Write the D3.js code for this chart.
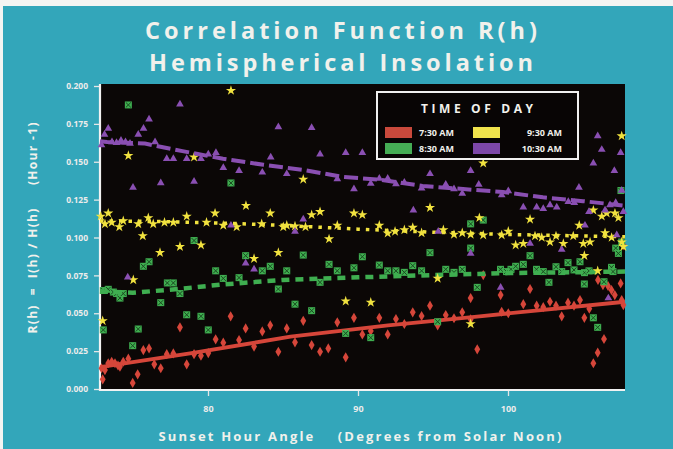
<!DOCTYPE html>
<html><head><meta charset="utf-8">
<script src="https://cdn.jsdelivr.net/npm/d3@7"></script>
<style>html,body{margin:0;padding:0;background:#fff;} svg{display:block;} text{font-family:"Open Sans",Lato,sans-serif;font-weight:700;}</style>
</head><body>
<svg id="c" width="673" height="449"></svg>
<script>
// ---------- data ----------
const titleLines = ["Correlation Function R(h)", "Hemispherical Insolation"];
const xLabel = "Sunset Hour Angle    (Degrees from Solar Noon)";
const yLabel = "R(h)  =  I(h) / H(h)     (Hour -1)";
const legendTitle = "TIME OF DAY";
const seriesNames = ["7:30 AM", "8:30 AM", "9:30 AM", "10:30 AM"];
const xTicks = [80, 90, 100];
const yTicks = [0, 0.025, 0.05, 0.075, 0.1, 0.125, 0.15, 0.175, 0.2];

const red730 = [[72.9,0.0137],[72.98,0.0064],[73.13,0.0125],[73.35,0.017],[73.58,0.018],[73.8,0.017],[74.0,0.0155],[74.13,0.0147],[74.35,0.018],[74.69,0.020],
[74.98,0.004],[75.31,0.0097],[75.69,0.0257],[76.07,0.0268],[76.42,0.0163],[76.85,0.0137],[77.25,0.023],[77.69,0.0235],[78.13,0.0407],[78.58,0.0163],
[79.07,0.023],[79.53,0.022],[80.02,0.0237],[80.51,0.0328],[81.02,0.0306],[81.51,0.048],[82.07,0.0323],[82.51,0.040],[83.07,0.028],[83.62,0.038],
[84.15,0.042],[84.69,0.0246],[85.25,0.040],[85.8,0.0308],[86.35,0.045],[86.91,0.029],[87.47,0.0246],[88.02,0.0268],[88.62,0.044],[89.18,0.0209],
[89.73,0.047],[90.29,0.036],[90.85,0.0383],[91.42,0.047],[91.98,0.036],[92.53,0.0462],[93.09,0.0429],[93.65,0.0506],[94.24,0.0482],[94.8,0.055],
[95.31,0.042],[95.85,0.0488],[96.4,0.0467],[96.95,0.0506],[97.51,0.046],[97.51,0.060],[97.95,0.0262],[98.35,0.0752],[99.51,0.062],[99.58,0.051],
[100.02,0.050],[101.02,0.056],[101.47,0.066],[101.91,0.055],[102.35,0.054],[102.8,0.0576],[103.2,0.055],[103.58,0.048],[104.0,0.057],[104.4,0.055],
[104.8,0.0587],[105.09,0.047],[105.42,0.053],[105.69,0.017],[105.98,0.024],[106.0,0.072],[106.33,0.0686],[106.4,0.033],[106.67,0.068],[106.9,0.0653],
[107.12,0.062],[107.51,0.0697],[107.58,0.0587],[107.69,0.0554],[107.69,0.095]];

const green830 = [[73.02,0.039],[73.02,0.065],[73.35,0.0658],[73.69,0.064],[73.91,0.063],[74.13,0.060],[74.35,0.063],[74.69,0.1875],[74.98,0.0286],[75.35,0.0396],
[75.69,0.081],[76.07,0.084],[76.85,0.057],[77.29,0.070],[77.69,0.070],[78.13,0.063],[78.58,0.049],[79.07,0.098],[79.53,0.048],[80.02,0.039],
[80.51,0.078],[81.02,0.073],[81.53,0.136],[82.07,0.0735],[82.51,0.088],[83.62,0.078],[84.15,0.081],[84.69,0.066],[85.25,0.078],[85.8,0.056],
[86.35,0.0884],[86.91,0.0517],[87.47,0.0704],[88.07,0.0823],[88.62,0.078],[89.18,0.0367],[89.73,0.080],[90.29,0.0873],[90.85,0.0339],[91.42,0.0818],
[91.98,0.078],[92.53,0.078],[93.09,0.077],[93.65,0.0814],[94.24,0.078],[94.8,0.090],[95.31,0.0444],[95.85,0.079],[96.4,0.077],[96.95,0.079],
[97.51,0.109],[97.51,0.093],[97.95,0.0671],[98.35,0.1115],[99.5,0.079],[99.9,0.0775],[100.2,0.079],[100.51,0.081],[101.02,0.0823],[101.47,0.088],
[101.9,0.079],[102.35,0.0775],[102.73,0.0704],[103.2,0.0807],[103.58,0.0775],[104.0,0.0834],[104.4,0.0786],[104.8,0.084],[105.09,0.0693],[105.1,0.0768],
[105.4,0.078],[105.69,0.047],[105.98,0.0407],[106.4,0.0708],[106.9,0.0803],[107.0,0.0775],[107.18,0.093],[107.36,0.0895],[107.53,0.131],[107.58,0.097]];

const yellow930 = [[72.85,0.114],[72.98,0.045],[73.13,0.109],[73.35,0.116],[73.58,0.110],[74.09,0.107],[74.35,0.111],[74.69,0.154],[75.02,0.072],[75.35,0.109],
[75.65,0.101],[76.02,0.113],[76.35,0.109],[76.8,0.090],[77.1,0.110],[77.69,0.110],[78.13,0.094],[78.58,0.114],[79.07,0.153],[79.53,0.095],
[79.9,0.110],[80.47,0.116],[81.02,0.108],[81.53,0.197],[81.91,0.107],[82.53,0.121],[83.07,0.086],[83.58,0.109],[84.15,0.116],[84.69,0.090],
[85.02,0.107],[85.25,0.108],[85.8,0.1075],[86.35,0.1384],[86.5,0.107],[86.91,0.115],[87.47,0.117],[88.07,0.099],[88.62,0.108],[89.18,0.058],
[89.73,0.116],[90.29,0.115],[90.85,0.0572],[91.42,0.108],[91.98,0.1028],[92.47,0.104],[93.09,0.105],[93.65,0.1066],[94.24,0.103],[94.8,0.1197],
[95.31,0.073],[95.69,0.105],[96.4,0.102],[96.95,0.103],[97.51,0.043],[97.51,0.102],[98.09,0.113],[98.35,0.149],[98.35,0.1016],[99.58,0.1016],
[100.02,0.104],[100.51,0.095],[101.02,0.096],[101.47,0.112],[101.8,0.101],[102.25,0.100],[102.8,0.097],[103.2,0.101],[103.69,0.096],[104.35,0.101],
[104.75,0.108],[105.02,0.096],[105.09,0.088],[105.47,0.097],[105.69,0.118],[105.98,0.078],[106.25,0.114],[106.47,0.103],[106.58,0.116],[106.91,0.100],
[107.13,0.116],[107.36,0.113],[107.58,0.167],[107.58,0.097],[107.69,0.094]];

const purple1030 = [[72.9,0.161],[73.1,0.168],[73.35,0.172],[73.6,0.163],[73.9,0.1625],[74.2,0.164],[74.5,0.163],[74.65,0.0737],[74.8,0.162],[75.0,0.133],
[75.35,0.168],[75.7,0.172],[76.07,0.178],[76.47,0.163],[76.85,0.136],[77.25,0.152],[77.69,0.152],[78.13,0.188],[78.58,0.152],[79.07,0.137],
[79.53,0.152],[80.02,0.155],[80.53,0.156],[81.02,0.146],[81.53,0.108],[82.07,0.144],[82.51,0.083],[83.07,0.079],[83.62,0.143],[84.18,0.153],
[84.69,0.173],[85.25,0.142],[85.8,0.104],[86.35,0.112],[86.91,0.1725],[87.47,0.155],[88.62,0.1386],[89.18,0.156],[89.73,0.132],[90.29,0.156],
[90.85,0.1357],[91.42,0.139],[91.98,0.139],[92.53,0.1353],[93.09,0.1363],[93.69,0.118],[94.24,0.1325],[94.8,0.142],[95.35,0.104],[95.85,0.135],
[96.4,0.132],[96.95,0.129],[97.51,0.144],[97.51,0.0895],[98.05,0.135],[99.51,0.067],[99.58,0.128],[100.02,0.1307],[101.02,0.120],[101.47,0.096],
[101.91,0.120],[102.35,0.119],[102.8,0.1215],[103.25,0.120],[103.58,0.092],[104.02,0.1236],[104.42,0.123],[104.73,0.133],[105.13,0.108],[105.4,0.117],
[105.69,0.149],[105.98,0.167],[106.25,0.158],[106.47,0.118],[106.69,0.060],[106.8,0.1215],[107.09,0.144],[107.18,0.123],[107.25,0.1016],[107.51,0.156],
[107.58,0.131],[107.69,0.117]];

const redFit = [[72.8,0.0145],[78.8,0.0235],[85.5,0.0345],[92,0.042],[98.1,0.048],[107.8,0.0576]];
const greenFit = [[72.8,0.0645],[75,0.0635],[78,0.066],[81,0.069],[85,0.072],[90,0.0737],[95,0.0752],[100,0.0765],[107.8,0.0775]];
const yellowFit = [[72.8,0.111],[77,0.1105],[81,0.1095],[85,0.108],[90,0.1055],[95,0.1035],[100,0.102],[107.8,0.1005]];
const purpleFit = [[72.8,0.1635],[73.27,0.163],[75.8,0.162],[78.3,0.157],[81.0,0.152],[83.7,0.148],[86.33,0.1446],[89.0,0.140],[91.6,0.138],[94.3,0.134],[97.0,0.132],[99.67,0.130],[102.33,0.1265],[105.0,0.124],[107.8,0.121]];

// ---------- drawing ----------
const W = 673, H = 449;
const svg = d3.select("#c");
const colors = ["#d6463a", "#3fae50", "#f1e23f", "#8a4fb2"];
const swatch = ["#c9493c", "#45ad55", "#f0e34c", "#7c47a8"];
const fg = "#f1f1ec";

svg.append("rect").attr("width", W).attr("height", H).attr("fill", "#f4f4f2");
svg.append("rect").attr("x", 3).attr("y", 6).attr("width", W - 3).attr("height", H - 6).attr("fill", "#33a6ba");

const x = d3.scaleLinear().domain([72.8, 107.8]).range([100, 625]);
const y = d3.scaleLinear().domain([0, 0.2]).range([389, 86]);

// plot area
svg.append("rect").attr("x", 100).attr("y", 84).attr("width", 525).attr("height", 305).attr("fill", "#0b0706");

// titles
titleLines.forEach((t, i) => {
  svg.append("text").attr("x", 341).attr("y", 39 + i * 32).attr("text-anchor", "middle")
    .attr("font-size", 23.5).attr("fill", fg).attr("textLength", i === 0 ? 392 : 384)
    .attr("lengthAdjust", "spacing").text(t);
});

// axes
const gy = svg.append("g").attr("transform", "translate(99,0)")
  .call(d3.axisLeft(y).tickValues(yTicks).tickFormat(d3.format(".3f")).tickSize(5).tickPadding(6).tickSizeOuter(0));
gy.select(".domain").remove();
gy.selectAll("line").attr("stroke", "#e6e6e6").attr("stroke-width", 1.3);
gy.selectAll("text").attr("fill", "#ececec").attr("font-size", 8.5).style("font-family", "'Open Sans', sans-serif").style("font-weight", 700);

const gx = svg.append("g").attr("transform", "translate(0,390)")
  .call(d3.axisBottom(x).tickValues(xTicks).tickSize(6).tickPadding(10).tickSizeOuter(0));
gx.select(".domain").remove();
gx.selectAll("line").attr("stroke", "#e6e6e6").attr("stroke-width", 1.3);
gx.selectAll("text").attr("fill", "#ececec").attr("font-size", 9).style("font-family", "'Open Sans', sans-serif").style("font-weight", 700);

svg.append("line").attr("x1", 100).attr("x2", 100).attr("y1", 84).attr("y2", 391).attr("stroke", "#f2f2f2").attr("stroke-width", 2.2);
svg.append("line").attr("x1", 99).attr("x2", 625).attr("y1", 390).attr("y2", 390).attr("stroke", "#f2f2f2").attr("stroke-width", 2.2);

// axis titles
svg.append("text").attr("x", 360).attr("y", 441).attr("text-anchor", "middle").attr("font-size", 13)
  .attr("fill", fg).style("white-space", "pre").attr("textLength", 403).attr("lengthAdjust", "spacing").text(xLabel);
svg.append("text").attr("transform", "translate(37,228) rotate(-90)").attr("text-anchor", "middle").attr("font-size", 12)
  .attr("fill", fg).style("white-space", "pre").attr("textLength", 211).attr("lengthAdjust", "spacing").text(yLabel);

// points
const plot = svg.append("g");
const line = d3.line().x(d => x(d[0])).y(d => y(d[1]));

function drawFit(data, color, dash, width) {
  plot.append("path").attr("d", line(data)).attr("fill", "none").attr("stroke", color)
    .attr("stroke-width", width).attr("stroke-dasharray", dash).attr("stroke-linecap", "butt");
}

// red diamonds
plot.append("g").selectAll("path").data(red730).join("path")
  .attr("transform", d => `translate(${x(d[0])},${y(d[1])})`)
  .attr("d", d3.symbol(d3.symbolDiamond, 30)).attr("fill", colors[0]);
drawFit(redFit, colors[0], null, 3.8);

// green boxed x
const gG = plot.append("g").selectAll("g").data(green830).join("g")
  .attr("transform", d => `translate(${x(d[0])},${y(d[1])})`);
gG.append("rect").attr("x", -3.5).attr("y", -3.5).attr("width", 7).attr("height", 7).attr("fill", colors[1]);
gG.append("path").attr("d", d3.symbol(d3.symbolX, 18)).attr("stroke", "#1a4a20").attr("stroke-width", 1).attr("fill", "none");
drawFit(greenFit, colors[1], "8,6", 4.5);

// yellow stars
plot.append("g").selectAll("path").data(yellow930).join("path")
  .attr("transform", d => `translate(${x(d[0])},${y(d[1])})`)
  .attr("d", d3.symbol(d3.symbolStar, 32)).attr("fill", colors[2]);
drawFit(yellowFit, colors[2], "3.5,6", 3.5);

// purple triangles
plot.append("g").selectAll("path").data(purple1030).join("path")
  .attr("transform", d => `translate(${x(d[0])},${y(d[1])})`)
  .attr("d", d3.symbol(d3.symbolTriangle, 26)).attr("fill", colors[3]);
drawFit(purpleFit, colors[3], "14,5", 4);

// legend
const lg = svg.append("g");
lg.append("rect").attr("x", 377).attr("y", 92).attr("width", 201).attr("height", 67)
  .attr("fill", "#080505").attr("stroke", "#f0f0f0").attr("stroke-width", 2);
lg.append("text").attr("x", 477).attr("y", 113).attr("text-anchor", "middle").attr("font-size", 12)
  .attr("fill", fg).attr("textLength", 112).attr("lengthAdjust", "spacing").text(legendTitle);
const lpos = [[385, 127, 419, "start"], [385, 143, 419, "start"], [473, 127, 562, "end"], [473, 143, 562, "end"]];
seriesNames.forEach((n, i) => {
  const p = lpos[i];
  lg.append("rect").attr("x", p[0]).attr("y", p[1]).attr("width", 27).attr("height", 11).attr("fill", swatch[i]);
  lg.append("text").attr("x", p[2]).attr("y", p[1] + 9).attr("text-anchor", p[3]).attr("font-size", 9)
    .attr("fill", fg).text(n);
});
</script>
</body></html>
